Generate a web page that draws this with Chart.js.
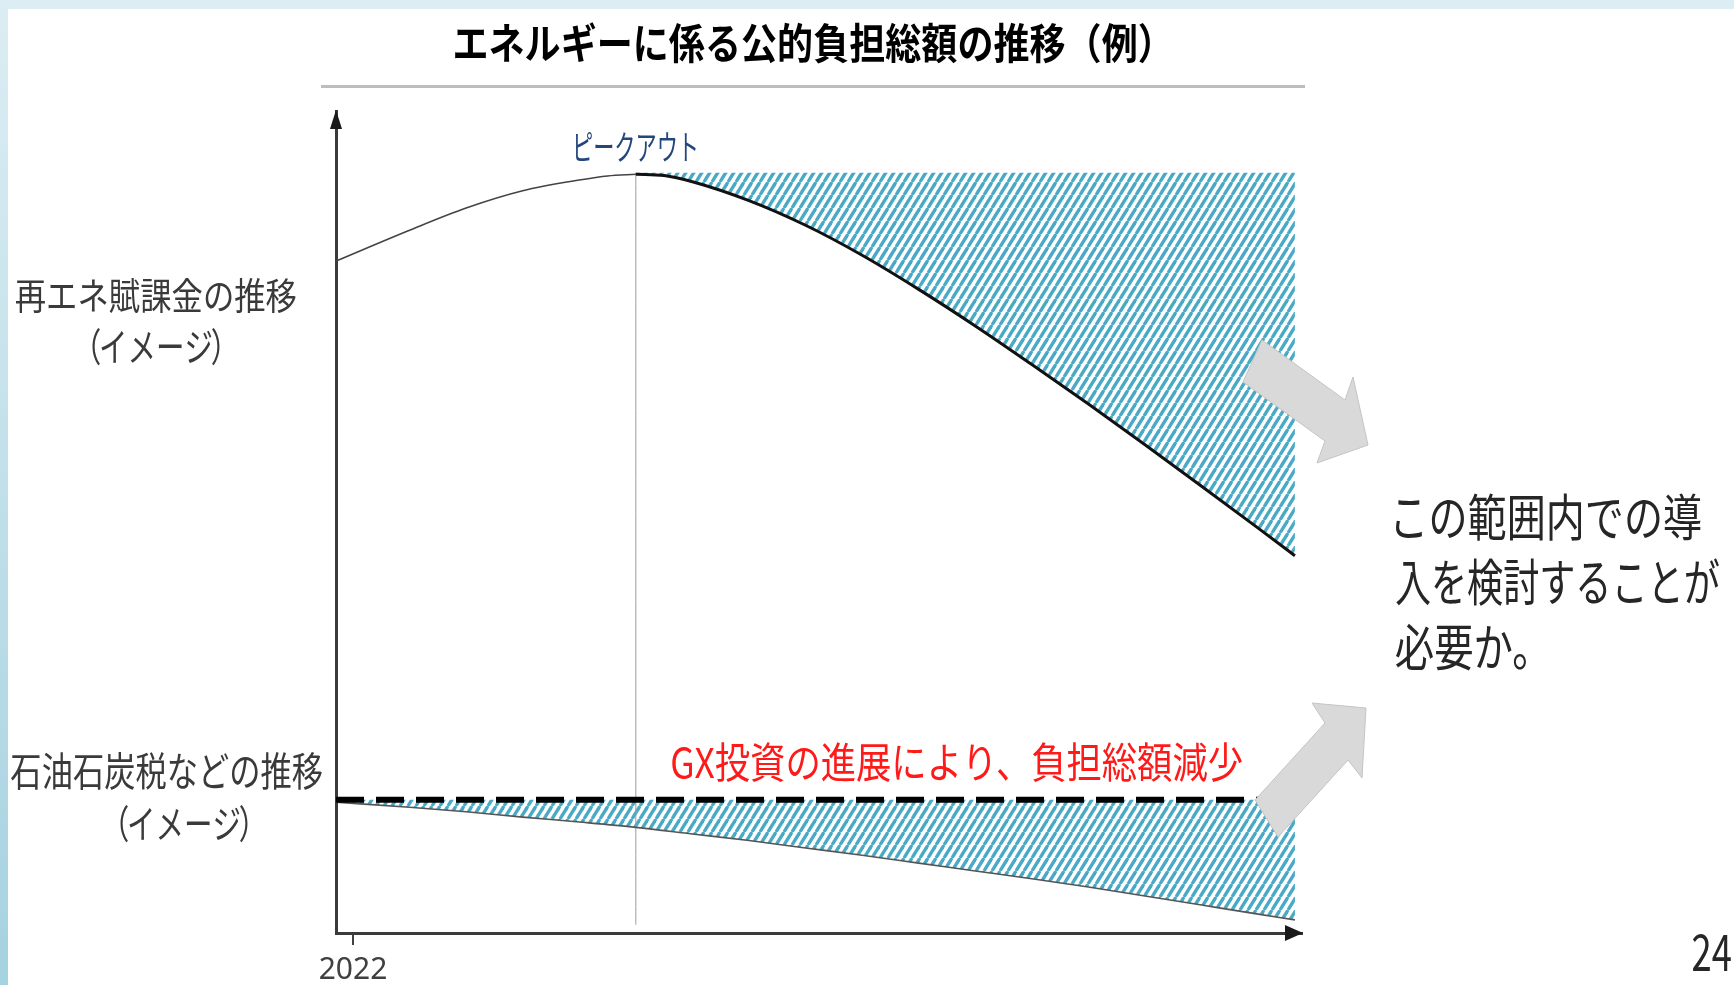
<!DOCTYPE html>
<html>
<head>
<meta charset="utf-8">
<title>エネルギーに係る公的負担総額の推移（例）</title>
<script src="https://cdn.jsdelivr.net/npm/chart.js@4.4.1/dist/chart.umd.min.js"></script>
<style>
  body { margin: 0; background: #fff; overflow: hidden; }
  .band-top { position: absolute; left: 0; top: 0; width: 1734px; height: 9px; background: #dcedf3; }
  .band-left { position: absolute; left: 0; top: 0; width: 8px; height: 985px; background: linear-gradient(#dcedf3, #a5d2df); }
  #chart { position: absolute; left: 0; top: 0; }
</style>
</head>
<body>
<div class="band-top"></div>
<div class="band-left"></div>
<canvas id="chart" width="1734" height="985"></canvas>
<script>
// ---- data (y = arbitrary 0..100 image scale) ----
const xMin = 2021.4, xMax = 2055.55;
const xTicks = [2022];
const peakYear = 2032;

const upperYearsBefore = [2021.4, 2024, 2026, 2028, 2030, 2031, 2032];
const upperBefore      = [81.75, 85.5, 88.2, 90.3, 91.6, 92.1, 92.3];

const upperYearsAfter = [2032, 2033, 2034, 2036, 2038, 2040, 2042, 2044, 2046, 2048, 2050, 2052, 2054, 2055.3];
const upperAfter      = [92.3, 92.15, 91.4, 89.1, 86.1, 82.45, 78.3, 73.85, 69.15, 64.35, 59.4, 54.35, 49.25, 45.9];
const hatchTop = 92.5;

const lowerYears = [2021.4, 2024, 2026, 2028, 2030, 2032, 2034, 2036, 2038, 2040, 2042, 2044, 2046, 2048, 2050, 2052, 2054, 2055.3];
const lowerCurve = [15.9, 15.3, 14.75, 14.1, 13.5, 12.85, 12.05, 11.25, 10.35, 9.45, 8.5, 7.55, 6.6, 5.6, 4.5, 3.4, 2.3, 1.6];
const currentLevel = 16.2;

const peakGuide = [92.5, 1.0];

// ---- texts ----
const titleText = 'エネルギーに係る公的負担総額の推移（例）';
const peakLabel = 'ピークアウト';
const renewLabel = ['再エネ賦課金の推移', '（イメージ）'];
const oilLabel = ['石油石炭税などの推移', '（イメージ）'];
const gxNote = 'GX投資の進展により、負担総額減少';
const sideNote = ['この範囲内での導', '入を検討することが', '必要か。'];
const pageNo = '24';

const FONT = '"Noto Sans CJK JP", "Noto Sans", sans-serif';

function pts(xs, ys) { return xs.map((x, i) => ({ x: x, y: ys[i] })); }

// diagonal hatch like the slide
function makeHatch() {
  const c = document.createElement('canvas');
  const w = 8, h = 13;
  c.width = w; c.height = h;
  const g = c.getContext('2d');
  g.strokeStyle = '#4aaac6';
  g.lineWidth = 3.3;
  [-w, 0, w].forEach(function (o) {
    g.beginPath(); g.moveTo(o, h); g.lineTo(o + w, 0); g.stroke();
  });
  return g.createPattern(c, 'repeat');
}
const hatch = makeHatch();

// fit text ink into a box
function boxText(ctx, text, l, t, r, b, color, weight) {
  ctx.save();
  ctx.font = (weight || 400) + ' 100px ' + FONT;
  const m = ctx.measureText(text);
  const iw = m.actualBoundingBoxLeft + m.actualBoundingBoxRight;
  const ih = m.actualBoundingBoxAscent + m.actualBoundingBoxDescent;
  ctx.translate(l, t);
  ctx.scale((r - l) / iw, (b - t) / ih);
  ctx.fillStyle = color;
  ctx.textAlign = 'left';
  ctx.textBaseline = 'alphabetic';
  ctx.fillText(text, m.actualBoundingBoxLeft, m.actualBoundingBoxAscent);
  ctx.restore();
}

// several lines: common height from the first line, own width each
function linesText(ctx, lines, l, rights, t, b, pitch, color) {
  ctx.save();
  ctx.font = '400 100px ' + FONT;
  const m0 = ctx.measureText(lines[0]);
  const sy = (b - t) / (m0.actualBoundingBoxAscent + m0.actualBoundingBoxDescent);
  ctx.fillStyle = color;
  ctx.textBaseline = 'alphabetic';
  lines.forEach(function (s, i) {
    const m = ctx.measureText(s);
    const sx = (rights[i] - l) / (m.actualBoundingBoxLeft + m.actualBoundingBoxRight);
    ctx.save();
    ctx.translate(l, t + i * pitch);
    ctx.scale(sx, sy);
    ctx.fillText(s, m.actualBoundingBoxLeft, m0.actualBoundingBoxAscent);
    ctx.restore();
  });
  ctx.restore();
}

// label with narrow brackets, centred
function bracketText(ctx, text, cx, cy, size, sx, color) {
  ctx.save();
  ctx.font = '400 ' + size + 'px ' + FONT;
  ctx.fillStyle = color;
  ctx.textBaseline = 'middle';
  ctx.textAlign = 'left';
  const parts = Array.from(text).map(function (ch) {
    if (ch === '（') return { ch: ch, dx: -0.42 * size, adv: 0.5 * size };
    if (ch === '）') return { ch: ch, dx: -0.08 * size, adv: 0.5 * size };
    return { ch: ch, dx: 0, adv: ctx.measureText(ch).width };
  });
  const total = parts.reduce((s, p) => s + p.adv, 0);
  ctx.translate(cx, cy);
  ctx.scale(sx, 1);
  let x = -total / 2;
  parts.forEach(function (p) { ctx.fillText(p.ch, x + p.dx, 0); x += p.adv; });
  ctx.restore();
}

function poly(ctx, p, fill, stroke) {
  ctx.beginPath();
  ctx.moveTo(p[0][0], p[0][1]);
  for (let i = 1; i < p.length; i++) ctx.lineTo(p[i][0], p[i][1]);
  ctx.closePath();
  ctx.fillStyle = fill; ctx.fill();
  ctx.strokeStyle = stroke; ctx.lineWidth = 1; ctx.stroke();
}

const decor = {
  id: 'decor',
  afterDraw(chart) {
    const ctx = chart.ctx, a = chart.chartArea;
    const xs = chart.scales.x;

    // axis arrow heads
    ctx.save();
    ctx.fillStyle = '#1a1a1a';
    ctx.beginPath();
    ctx.moveTo(a.left, a.top - 1); ctx.lineTo(a.left - 6, a.top + 18); ctx.lineTo(a.left + 6, a.top + 18);
    ctx.closePath(); ctx.fill();
    ctx.beginPath();
    ctx.moveTo(a.right + 1, a.bottom); ctx.lineTo(a.right - 17, a.bottom - 8); ctx.lineTo(a.right - 17, a.bottom + 8);
    ctx.closePath(); ctx.fill();

    // title and rule under it
    boxText(ctx, titleText, 455, 23, 1150, 64, '#000', 700);
    ctx.fillStyle = '#bdbdbd';
    ctx.fillRect(321, 85, 984, 3);

    // peak label centred over the peak year
    const px = xs.getPixelForValue(peakYear);
    boxText(ctx, peakLabel, px - 60, 132, px + 60, 162, '#23467d', 400);

    // side labels
    boxText(ctx, renewLabel[0], 16, 278, 296, 313, '#3a3a3a', 400);
    bracketText(ctx, renewLabel[1], 156, 346, 39, 0.73, '#3a3a3a');
    boxText(ctx, oilLabel[0], 11, 753, 322, 790, '#3a3a3a', 400);
    bracketText(ctx, oilLabel[1], 184, 823, 39, 0.73, '#3a3a3a');

    // red note
    boxText(ctx, gxNote, 672, 743, 1242, 782, '#ff1a1a', 400);

    // grey block arrows
    poly(ctx, [[1262, 340], [1345, 400], [1353, 377], [1368, 445], [1317, 463], [1325, 441], [1243, 382]], '#d9d9d9', '#c4c4c4');
    poly(ctx, [[1255, 800], [1325, 723], [1312, 703], [1366, 708], [1362, 778], [1348, 760], [1278, 837]], '#d9d9d9', '#c4c4c4');

    // right hand note and page number
    linesText(ctx, sideNote, 1396, [1701, 1719, 1526], 493, 540, 65, '#262626');
    boxText(ctx, pageNo, 1693, 934, 1731, 971, '#262626', 400);
    ctx.restore();
  }
};

const line = { pointRadius: 0, fill: false, cubicInterpolationMode: 'monotone' };

new Chart(document.getElementById('chart'), {
  type: 'line',
  data: {
    datasets: [
      Object.assign({}, line, { data: pts(upperYearsAfter, upperYearsAfter.map(() => hatchTop)), borderWidth: 0, borderColor: 'rgba(0,0,0,0)', backgroundColor: hatch, fill: '+1' }),
      Object.assign({}, line, { data: pts(upperYearsAfter, upperAfter), borderColor: '#111', borderWidth: 3 }),
      Object.assign({}, line, { data: pts(upperYearsBefore, upperBefore), borderColor: '#444', borderWidth: 1.6 }),
      Object.assign({}, line, { data: pts(lowerYears, lowerYears.map(() => currentLevel)), borderColor: '#000', borderWidth: 6, borderDash: [28, 12], backgroundColor: hatch, fill: '+1' }),
      Object.assign({}, line, { data: pts(lowerYears, lowerCurve), borderColor: '#555', borderWidth: 1.6 }),
      Object.assign({}, line, { data: pts([peakYear, peakYear], peakGuide), borderColor: '#9a9a9a', borderWidth: 1 })
    ]
  },
  options: {
    responsive: false,
    animation: false,
    events: [],
    layout: { padding: { left: 336, top: 111, right: 432, bottom: 0 } },
    plugins: {
      legend: { display: false },
      tooltip: { enabled: false },
      filler: { drawTime: 'beforeDatasetsDraw' }
    },
    scales: {
      x: {
        type: 'linear', min: xMin, max: xMax,
        afterBuildTicks: s => { s.ticks = xTicks.map(v => ({ value: v })); },
        afterFit: s => { s.height = 52; },
        grid: { drawOnChartArea: false, tickLength: 12, color: '#404040', lineWidth: 2 },
        border: { color: '#3a3a3a', width: 3 },
        ticks: { callback: v => String(v), color: '#404040', padding: 7, maxRotation: 0, font: { family: 'Noto Sans', size: 30 } }
      },
      y: {
        min: 0, max: 100,
        afterFit: s => { s.width = 0; },
        grid: { display: false },
        border: { color: '#3a3a3a', width: 3 },
        ticks: { display: false }
      }
    }
  },
  plugins: [decor]
});
</script>
</body>
</html>
